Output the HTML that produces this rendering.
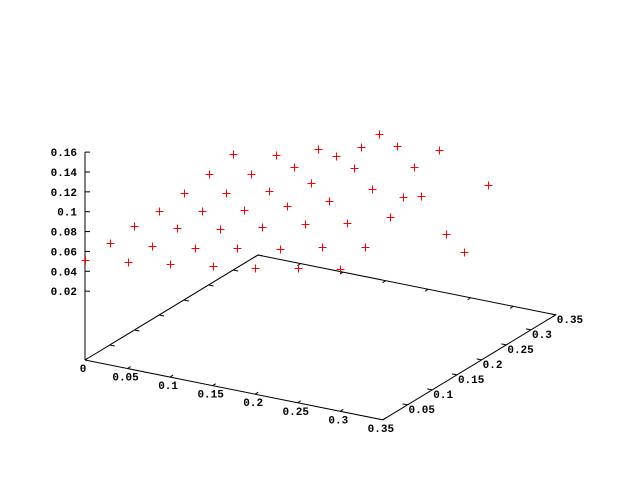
<!DOCTYPE html>
<html><head><meta charset="utf-8"><style>
html,body{margin:0;padding:0;background:#fff;}
svg text{font-family:"Liberation Mono",monospace;font-weight:bold;font-size:11px;fill:#000;}
</style></head><body>
<svg id="chart" width="640" height="480" viewBox="0 0 640 480" xmlns="http://www.w3.org/2000/svg">
<g id="axes"></g>
<g id="points"></g>
</svg>
<script>
const xValues = [0, 0.05, 0.1, 0.15, 0.2, 0.25, 0.3];
const yValues = [0, 0.05, 0.1, 0.15, 0.2, 0.25, 0.3];
const zRow0 = [0.051, 0.053, 0.055, 0.055, 0.058, 0.062, 0.067];
const zRow1 = [0.058, 0.059, 0.062, 0.064, 0.067, 0.071, 0.075];
const zRow2 = [0.065, 0.066, 0.070, 0.074, 0.078, 0.087, 0.090];
const zRow3 = [0.071, 0.074, 0.080, 0.086, 0.094, 0.106, 0.100];
const zRow4 = [0.078, 0.082, 0.092, 0.100, 0.118, 0.137, 0.059];
const zRow5 = [0.086, 0.092, 0.101, 0.121, 0.149, 0.083, 0.030];
const zRow6 = [0.094, 0.101, 0.116, 0.151, 0.153, 0.036, 0.088];
const zRows = [zRow0, zRow1, zRow2, zRow3, zRow4, zRow5, zRow6];
const xTicks = ["0","0.05","0.1","0.15","0.2","0.25","0.3","0.35"];
const yTicks = ["0.05","0.1","0.15","0.2","0.25","0.3","0.35"];
const zTicks = ["0.02","0.04","0.06","0.08","0.1","0.12","0.14","0.16"];

const NS = "http://www.w3.org/2000/svg";
const X0 = 85, Y0 = 360;
function px(x, y) { return X0 + 851 * x + 494 * y; }
function pyBase(x, y) { return Y0 + 171 * x - 300 * y; }
function pz(x, y, z) { return pyBase(x, y) - 49 - 993 * z; }
function zy(z) { return 311 - 993 * z; }

function mk(tag, attrs, parent) {
  const e = document.createElementNS(NS, tag);
  for (const k in attrs) e.setAttribute(k, attrs[k]);
  parent.appendChild(e);
  return e;
}
const axes = document.getElementById('axes');
const pts = document.getElementById('points');
const M = 0.35;
// base box
const corners = [[0,0],[M,0],[M,M],[0,M],[0,0]];
let d = "";
corners.forEach((c, i) => { d += (i ? "L" : "M") + px(c[0], c[1]) + "," + pyBase(c[0], c[1]); });
let box = mk('path', {d: d, fill: 'none', stroke: '#000', 'stroke-width': 1}, axes);


// z axis
let zax = mk('line', {x1: 85, y1: zy(0.16), x2: 85, y2: Y0, stroke: '#000', 'stroke-width': 1}, axes);


zTicks.forEach(t => {
  const v = parseFloat(t), y = zy(v);
  mk('line', {x1: 85, y1: y, x2: 90, y2: y, stroke: '#000'}, axes);
  const tx = mk('text', {x: 77, y: y + 4, 'text-anchor': 'end'}, axes);
  tx.textContent = t;
  
  
});
xTicks.forEach(t => {
  const v = parseFloat(t);
  const x = px(v, 0), y = pyBase(v, 0);
  mk('line', {x1: x, y1: y, x2: x + 3, y2: y - 2, stroke: '#000'}, axes);
  const xb = px(v, M), yb = pyBase(v, M);
  mk('line', {x1: xb, y1: yb, x2: xb - 3, y2: yb + 2, stroke: '#000'}, axes);
  const tx = mk('text', {x: x - 2, y: y + 12, 'text-anchor': 'middle'}, axes);
  tx.textContent = t;
  
  
});
yTicks.forEach(t => {
  const v = parseFloat(t);
  const x = px(M, v), y = pyBase(M, v);
  mk('line', {x1: x, y1: y, x2: x - 5, y2: y - 1, stroke: '#000'}, axes);
  const xb = px(0, v), yb = pyBase(0, v);
  mk('line', {x1: xb, y1: yb, x2: xb + 5, y2: yb + 1, stroke: '#000'}, axes);
  const tx = mk('text', {x: x + 1, y: y + 8, 'text-anchor': 'start'}, axes);
  tx.textContent = t;
  
  
});
// points
xValues.forEach((xv, i) => {
  yValues.forEach((yv, j) => {
    const z = zRows[i][j];
    const cx = Math.round(px(xv, yv)) + 0.5, cy = Math.round(pz(xv, yv, z)) + 0.5;
    const p = mk('path', {d: `M${cx-4},${cy}H${cx+4}M${cx},${cy-4}V${cy+4}`, stroke: '#f00', 'stroke-width': 1, fill: 'none'}, pts);
    
    
  });
});
</script>
</body></html>
